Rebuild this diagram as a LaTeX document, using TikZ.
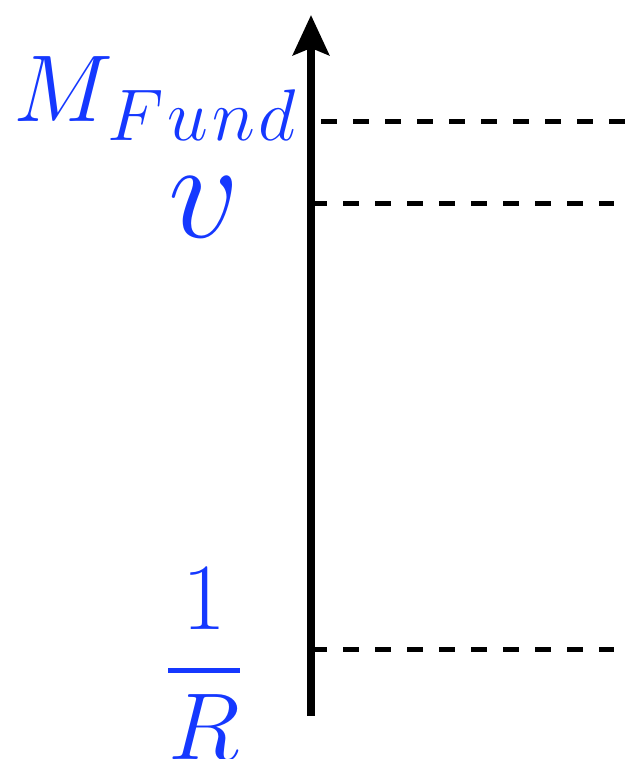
\RequirePackage{fix-cm}
\documentclass[tikz,border=0pt]{standalone}
\usepackage{amsmath}
\usepackage{graphicx}
\usepackage{xcolor}
\definecolor{lblue}{HTML}{1538FF}
\usetikzlibrary{arrows.meta,positioning}
\tikzset{
  >={Stealth[length=40pt,width=36pt,inset=7pt]},
  axisline/.style={->,line width=8pt},
  levline/.style={line width=5pt,dash pattern=on 16pt off 16pt},
  lab/.style={text=lblue,inner sep=0pt,font=\fontsize{95}{100}\selectfont},
  biglab/.style={lab,font=\fontsize{140}{150}\selectfont},
}
\begin{document}
\begin{tikzpicture}[x=1pt,y=1pt]
\useasboundingbox (0,0) rectangle (628,759);
% energy axis
\coordinate (axbot) at (311,43);
\coordinate (axtop) at (311,744);
\draw[axisline] (axbot) -- (axtop);
% scales
\coordinate (mfL) at (321,637);  \coordinate (mfR) at (628,637);
\coordinate (vL)  at (311,555);  \coordinate (vR)  at (614,555);
\coordinate (rL)  at (311,109);  \coordinate (rR)  at (614,109);
\draw[levline] (mfL) -- (mfR);
\draw[levline] (vL) -- (vR);
\draw[levline] (rL) -- (rR);
\node[lab,anchor=base east] (mfund) at (297,637)
  {$M_{\mkern1mu\scalebox{1.1}{$\scriptstyle F\mkern1mu u\mkern1mu n\mkern1mu d$}}$};
\node[biglab,anchor=base] (vev) at (204,521) {$v$};
\node[lab,anchor=base] (invr) at (204,65) {$\genfrac{}{}{5pt}{0}{1}{R}$};
\end{tikzpicture}
\end{document}
